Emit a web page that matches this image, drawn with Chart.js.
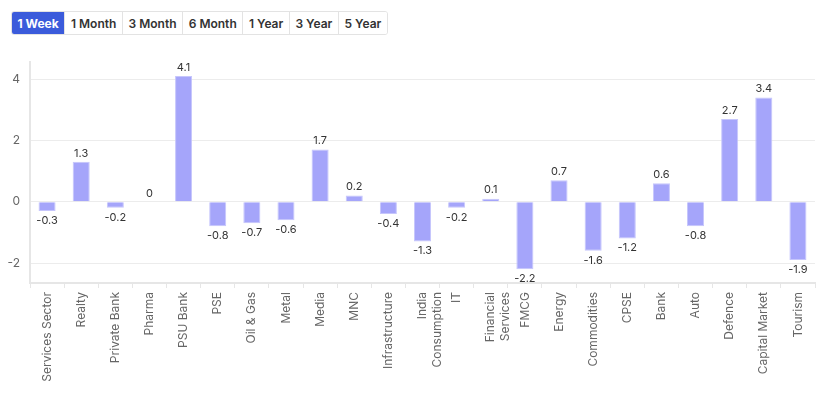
<!DOCTYPE html>
<html>
<head>
<meta charset="utf-8">
<script src="https://cdn.jsdelivr.net/npm/chart.js@4"></script>
<style>
  body { margin: 0; background: #fff; font-family: "Inter", "Noto Sans", sans-serif; }
  .periods { position: absolute; left: 11px; top: 11px; display: flex; border: 1px solid #e3e3e3; border-radius: 3px; overflow: hidden; }
  .periods button { font: 600 12px "Inter", sans-serif; color: #333; background: #fff; border: none; border-left: 1px solid #e3e3e3; height: 22px; padding: 0 5.6px; }
  .periods button:first-child { border-left: none; }
  .periods button.active { background: #3b5bdb; color: #fff; font-weight: 700; }
  .wrap { position: absolute; left: 0; top: 45px; width: 831px; height: 352px; }
</style>
</head>
<body>
<div class="periods">
  <button class="active">1 Week</button>
  <button>1 Month</button>
  <button>3 Month</button>
  <button>6 Month</button>
  <button>1 Year</button>
  <button>3 Year</button>
  <button>5 Year</button>
</div>
<div class="wrap"><canvas id="sectorChart"></canvas></div>
<script>
// sector names (arrays = two line labels)
const sectors = [
  "Services Sector", "Realty", "Private Bank", "Pharma", "PSU Bank", "PSE",
  "Oil & Gas", "Metal", "Media", "MNC", "Infrastructure", ["India", "Consumption"],
  "IT", ["Financial", "Services"], "FMCG", "Energy", "Commodities", "CPSE",
  "Bank", "Auto", "Defence", "Capital Market", "Tourism"
];
// 1 week change (%)
const weekChange = [
  -0.3, 1.3, -0.2, 0, 4.1, -0.8, -0.7, -0.6, 1.7, 0.2, -0.4, -1.3,
  -0.2, 0.1, -2.2, 0.7, -1.6, -1.2, 0.6, -0.8, 2.7, 3.4, -1.9
];
const yTicks = [-2, 0, 2, 4];

// draws the value above / below each bar
const valueLabels = {
  id: "valueLabels",
  afterDatasetsDraw(chart) {
    const ctx = chart.ctx;
    const meta = chart.getDatasetMeta(0);
    ctx.save();
    ctx.font = "11px Inter, sans-serif";
    ctx.fillStyle = "#333";
    ctx.textAlign = "center";
    meta.data.forEach((bar, i) => {
      const v = weekChange[i];
      if (v >= 0) {
        ctx.textBaseline = "bottom";
        ctx.fillText(String(v), bar.x, bar.y - 3);
      } else {
        ctx.textBaseline = "top";
        ctx.fillText(String(v), bar.x, bar.y + 4);
      }
    });
    ctx.restore();
  },
};

new Chart(document.getElementById("sectorChart"), {
  type: "bar",
  data: {
    labels: sectors,
    datasets: [{
      data: weekChange,
      backgroundColor: "#a5a5fa",
      borderColor: "#c6c6fc",
      borderWidth: 1,
      barPercentage: 0.5,
      categoryPercentage: 1,
    }],
  },
  options: {
    responsive: true,
    maintainAspectRatio: false,
    animation: false,
    layout: { padding: { top: 15, right: 16, left: 0, bottom: 0 } },
    plugins: { legend: { display: false }, tooltip: { enabled: false } },
    scales: {
      x: {
        grid: { drawOnChartArea: false, drawTicks: true, tickLength: 5, color: "#e6e6e6" },
        border: { color: "#e6e6e6", width: 2 },
        ticks: {
          minRotation: 90, maxRotation: 90, autoSkip: false, padding: 4,
          color: "#666", font: { size: 12, family: "Inter, sans-serif" },
        },
        afterFit: (scale) => { scale.height = 114; },
      },
      y: {
        min: -2.65,
        max: 4.55,
        grid: { color: "#ececec", drawTicks: false },
        border: { color: "#e6e6e6", width: 2 },
        ticks: { padding: 10, color: "#666", font: { size: 12, family: "Inter, sans-serif" } },
        afterBuildTicks: (scale) => { scale.ticks = yTicks.map((v) => ({ value: v })); },
        afterFit: (scale) => { scale.width = 30; },
      },
    },
  },
  plugins: [valueLabels],
});
</script>
</body>
</html>
